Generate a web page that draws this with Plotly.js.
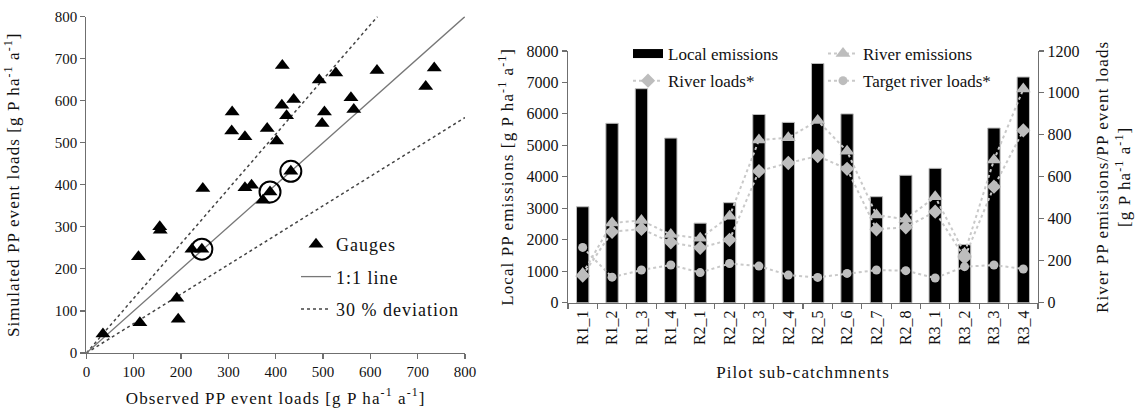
<!DOCTYPE html>
<html>
<head>
<meta charset="utf-8">
<script src="https://cdn.plot.ly/plotly-3.0.1.min.js"></script>
<style>
  html, body { margin: 0; padding: 0; background: #fff; }
  #chart { width: 1139px; height: 414px; }
  /* slightly airy lettering for titles and legend entries */
  #chart .legendtext { letter-spacing: 1px; }
  #chart .xtitle, #chart .ytitle, #chart .x2title, #chart .y2title, #chart .y3title { letter-spacing: 1.1px; }
  /* legend boxes are measured without the extra spacing, so let entries run past them */
  #chart g.scrollbox { clip-path: none !important; }
</style>
</head>
<body>
<div id="chart"></div>
<script>
// Left panel: observed vs simulated particulate phosphorus (PP) event loads at gauges
const observedLoads = [35, 113, 191, 194, 110, 155, 156, 223, 244, 246, 335, 349, 373, 388, 432,
  414, 492, 527, 614, 735, 717, 413, 438, 423, 559, 565, 503, 498, 382, 335, 402, 308, 307];
const simulatedLoads = [45, 72, 130, 80, 229, 300, 292, 247, 247, 391, 393, 399, 363, 383, 432,
  684, 649, 666, 672, 678, 634, 589, 603, 564, 607, 579, 573, 546, 534, 514, 504, 573, 528];
// Gauges highlighted with a ring
const ringedObserved = [244, 388, 432];
const ringedSimulated = [247, 383, 432];
// Reference lines: 1:1 and +/-30 % deviation
const oneToOneX = [0, 800];
const oneToOneY = [0, 800];
const upperDevX = [0, 615];
const upperDevY = [0, 800];
const lowerDevX = [0, 800];
const lowerDevY = [0, 560];

// Right panel: pilot sub-catchments
const subCatchments = ['R1_1', 'R1_2', 'R1_3', 'R1_4', 'R2_1', 'R2_2', 'R2_3', 'R2_4',
  'R2_5', 'R2_6', 'R2_7', 'R2_8', 'R3_1', 'R3_2', 'R3_3', 'R3_4'];
const localEmissions = [3050, 5700, 6800, 5230, 2530, 3180, 5980, 5730, 7600, 6000, 3370, 4050, 4270, 1850, 5550, 7170];
const riverEmissions = [140, 380, 392, 325, 307, 412, 775, 786, 868, 722, 418, 398, 505, 236, 680, 1018];
const riverLoads = [130, 338, 352, 288, 262, 300, 627, 666, 699, 638, 350, 360, 434, 215, 553, 821];
const targetRiverLoads = [264, 122, 156, 180, 144, 187, 175, 132, 121, 140, 156, 153, 118, 172, 180, 161];

const FONT = '"Liberation Serif", "Times New Roman", Times, serif';
const INK = '#111';
const AXIS = '#6f6f6f';
const GREY_LINE = '#c9c9c9';
const GREY_MARK = '#bdbdbd';
const UNIT = '[g P ha<sup>-1</sup> a<sup>-1</sup>]';

const traces = [
  // --- left panel ---
  {
    type: 'scatter', mode: 'lines', x: upperDevX, y: upperDevY,
    xaxis: 'x', yaxis: 'y', name: '30 % deviation', legend: 'legend', legendgroup: 'dev', legendrank: 3,
    line: { color: '#444', width: 1.5, dash: 'dot' }, hoverinfo: 'skip'
  },
  {
    type: 'scatter', mode: 'lines', x: lowerDevX, y: lowerDevY,
    xaxis: 'x', yaxis: 'y', name: '30 % deviation', legendgroup: 'dev', showlegend: false,
    line: { color: '#444', width: 1.5, dash: 'dot' }, hoverinfo: 'skip'
  },
  {
    type: 'scatter', mode: 'lines', x: oneToOneX, y: oneToOneY,
    xaxis: 'x', yaxis: 'y', name: '1:1 line', legend: 'legend', legendgroup: 'one', legendrank: 2,
    line: { color: '#777', width: 1.3 }, hoverinfo: 'skip'
  },
  {
    type: 'scatter', mode: 'markers', x: observedLoads, y: simulatedLoads,
    xaxis: 'x', yaxis: 'y', name: 'Gauges', legend: 'legend', legendgroup: 'gauges', legendrank: 1,
    marker: { symbol: 'triangle-up', size: 13, color: '#000' }
  },
  {
    type: 'scatter', mode: 'markers', x: ringedObserved, y: ringedSimulated,
    xaxis: 'x', yaxis: 'y', name: 'Gauges', legendgroup: 'gauges', showlegend: false,
    marker: { symbol: 'circle-open', size: 21, color: '#000', line: { width: 2, color: '#000' } }
  },
  // --- right panel ---
  {
    type: 'bar', x: subCatchments, y: localEmissions, xaxis: 'x2', yaxis: 'y2',
    name: 'Local emissions', legendgroup: 'local', showlegend: false, width: 0.42,
    marker: { color: '#000', line: { color: '#bcbcbc', width: 1 } }
  },
  {
    // legend key drawn as a wide black bar
    type: 'scatter', mode: 'lines', x: [subCatchments[0]], y: [null], xaxis: 'x2', yaxis: 'y2',
    name: 'Local emissions', legend: 'legend2', legendgroup: 'local', legendrank: 1,
    line: { color: '#000', width: 9 }, hoverinfo: 'skip'
  },
  {
    type: 'scatter', mode: 'lines+markers', x: subCatchments, y: riverLoads, xaxis: 'x2', yaxis: 'y3',
    name: 'River loads*', legend: 'legend2', legendgroup: 'rl', legendrank: 2,
    line: { color: GREY_LINE, width: 2, dash: 'dot' },
    marker: { symbol: 'diamond', size: 11, color: GREY_MARK }
  },
  {
    type: 'scatter', mode: 'lines+markers', x: subCatchments, y: riverEmissions, xaxis: 'x2', yaxis: 'y3',
    name: 'River emissions', legend: 'legend3', legendgroup: 're', legendrank: 1,
    line: { color: GREY_LINE, width: 2, dash: 'dot' },
    marker: { symbol: 'triangle-up', size: 13, color: GREY_MARK }
  },
  {
    type: 'scatter', mode: 'lines+markers', x: subCatchments, y: targetRiverLoads, xaxis: 'x2', yaxis: 'y3',
    name: 'Target river loads*', legend: 'legend3', legendgroup: 'trl', legendrank: 2,
    line: { color: GREY_LINE, width: 2, dash: 'dot' },
    marker: { symbol: 'circle', size: 9, color: GREY_MARK }
  }
];

const axisCommon = {
  showgrid: false, zeroline: false, showline: true, linecolor: AXIS, linewidth: 1.2,
  ticks: 'outside', ticklen: 5, tickcolor: AXIS, tickwidth: 1.2,
  automargin: false, fixedrange: true
};

const legendCommon = {
  bgcolor: 'rgba(0,0,0,0)', borderwidth: 0, xanchor: 'left', yanchor: 'top',
  font: { family: FONT, size: 17, color: INK }, tracegroupgap: 6, orientation: 'v'
};

const layout = {
  width: 1139, height: 414,
  margin: { l: 0, r: 0, t: 0, b: 0 },
  paper_bgcolor: '#fff', plot_bgcolor: 'rgba(0,0,0,0)',
  font: { family: FONT, size: 15, color: INK },
  xaxis: Object.assign({}, axisCommon, {
    domain: [86.4 / 1139, 465 / 1139], anchor: 'y',
    range: [0, 800], dtick: 100, tick0: 0,
    tickfont: { family: FONT, size: 15, color: INK },
    title: { text: 'Observed PP event loads ' + UNIT, font: { family: FONT, size: 17, color: INK }, standoff: 12 }
  }),
  yaxis: Object.assign({}, axisCommon, {
    domain: [(414 - 353) / 414, (414 - 16.6) / 414], anchor: 'x',
    range: [0, 800], dtick: 100, tick0: 0,
    tickfont: { family: FONT, size: 15, color: INK },
    title: { text: 'Simulated PP event loads ' + UNIT, font: { family: FONT, size: 17, color: INK }, standoff: 30 }
  }),
  xaxis2: Object.assign({}, axisCommon, {
    domain: [568 / 1139, 1038 / 1139], anchor: 'y2',
    type: 'category', range: [-0.5, 15.5], tickson: 'boundaries', tickangle: -90,
    tickfont: { family: FONT, size: 16, color: INK },
    title: { text: 'Pilot sub-catchmnents', font: { family: FONT, size: 17, color: INK }, standoff: 22 }
  }),
  yaxis2: Object.assign({}, axisCommon, {
    domain: [(414 - 302.8) / 414, (414 - 50.9) / 414], anchor: 'x2',
    range: [0, 8000], dtick: 1000, tick0: 0,
    tickfont: { family: FONT, size: 16, color: INK },
    title: { text: 'Local PP emissions ' + UNIT, font: { family: FONT, size: 17, color: INK }, standoff: 8 }
  }),
  yaxis3: Object.assign({}, axisCommon, {
    overlaying: 'y2', side: 'right', anchor: 'x2',
    range: [0, 1200], dtick: 200, tick0: 0,
    tickfont: { family: FONT, size: 16, color: INK },
    title: { text: 'River PP emissions/PP event loads<br>' + UNIT, font: { family: FONT, size: 17, color: INK }, standoff: 17 }
  }),
  legend: Object.assign({}, legendCommon, {
    x: 296 / 1139, y: 1 - 226 / 414, tracegroupgap: 6,
    font: { family: FONT, size: 18, color: INK }
  }),
  legend2: Object.assign({}, legendCommon, { x: 628 / 1139, y: 1 - 36 / 414, tracegroupgap: 2 }),
  legend3: Object.assign({}, legendCommon, { x: 823 / 1139, y: 1 - 36 / 414, tracegroupgap: 2 }),
  showlegend: true
};

Plotly.newPlot('chart', traces, layout, { displayModeBar: false, staticPlot: true });
</script>
</body>
</html>
